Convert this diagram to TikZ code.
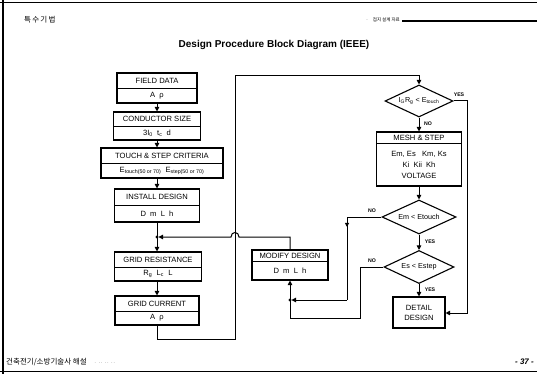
\documentclass[tikz,border=0pt]{standalone}
\usepackage{fontspec}
\setmainfont{Liberation Sans}
\newfontfamily\kr{Noto Sans CJK KR}
\usetikzlibrary{arrows.meta,shapes.geometric,decorations.markings}
\tikzset{
  lbl/.style={font=\fontsize{7.6}{11}\selectfont, inner sep=0, align=center},
  arr/.style={line width=1pt, -{Triangle[length=4.5pt,width=4.5pt]}},
  ln/.style={line width=1pt},
  dia/.style={diamond, draw, line width=1.1pt, inner sep=0, aspect=2, font=\fontsize{7.2}{8}\selectfont},
  yn/.style={font=\bfseries\fontsize{5.2}{5.5}\selectfont, inner sep=0},
  jdot/.style={circle, fill, inner sep=0, minimum size=3.4pt},
  plainbox/.style={draw, line width=1.1pt, inner sep=0, align=center, font=\fontsize{7.6}{10}\selectfont},
  midarrow/.style={postaction={decorate}, decoration={markings, mark=at position #1 with {\arrow{Triangle[length=4pt,width=4pt]}}}},
}
% name, cx, ytop, width, height, divider offset, title, content
\newcommand{\twobox}[8]{%
  \node[draw, line width=1.1pt, inner sep=0, minimum width=#4pt, minimum height=#5pt] (#1) at (#2,{#3+#5/2}) {};
  \draw[line width=0.7pt] ({#2-#4/2},{#3+#6}) -- ({#2+#4/2},{#3+#6});
  \node[lbl] at (#2,{#3+#6/2}) {#7};
  \node[lbl] at (#2,{#3+(#6+#5)/2}) {#8};}
\begin{document}
\begin{tikzpicture}[x=1pt,y=-1pt]
\useasboundingbox (0,0) rectangle (537,374);
% frame
\draw[line width=0.6pt] (0,2) -- (537,2);
\draw[line width=1.2pt] (3,0) -- (3,374);
\draw[line width=1pt] (0,371) -- (537,371);
\draw[line width=1.6pt] (402,21) -- (537,21);
% header / footer
\node[font=\kr\fontsize{7.5}{8}\selectfont, anchor=west, inner sep=0] (hdr) at (24,20) {특\,수\,기\,법};
\node[font=\kr\fontsize{4.5}{5}\selectfont, anchor=east, inner sep=0] (src) at (400,20) {·\quad 접지 설계 자료};
\node[font=\bfseries\fontsize{10}{10}\selectfont, inner sep=0] (title) at (274,45) {Design Procedure Block Diagram (IEEE)};
\node[font=\kr\fontsize{7.5}{8}\selectfont, anchor=west, inner sep=0] (foot) at (6,362) {건축전기/소방기술사 해설\quad{\fontsize{4}{4}\selectfont · \ ·· \ ·· \ ··}};
\node[font=\bfseries\itshape\fontsize{8}{8}\selectfont, anchor=east, inner sep=0] (pg) at (534,362) {- 37 -};

% left column
\twobox{fd}{157}{73}{80}{30}{15}{FIELD DATA}{A\ \ ρ}
\twobox{cs}{157}{112}{87}{28}{14}{CONDUCTOR SIZE}{3I\textsubscript{0}\ \ t\textsubscript{c}\ \ d}
\twobox{ts}{162}{148}{122}{30}{15}{TOUCH \& STEP CRITERIA}{E\textsubscript{touch(50 or 70)}\ \ E\textsubscript{step(50 or 70)}}
\twobox{id}{157}{189}{85}{33}{16}{INSTALL DESIGN}{D\ \ m\ \ L\ \ h}
\twobox{gr}{158}{252}{87}{29}{15}{GRID RESISTANCE}{R\textsubscript{g}\ \ L\textsubscript{c}\ \ L}
\twobox{gc}{157}{296}{84}{29}{15}{GRID CURRENT}{A\ \ ρ}
\coordinate (j1) at (157,237);
\node[jdot] (j1d) at (j1) {};

\draw[arr] (fd.south) -- (cs.north);
\draw[arr] (cs.south) -- (ts.north -| cs.south);
\draw[arr] (ts.south -| id.north) -- (id.north);
\draw[ln] (id.south) -- (j1);
\draw[arr] (j1) -- (gr.north -| j1);
\draw[arr] (gr.south -| gc.north) -- (gc.north);

% right column
\node[dia, minimum width=68pt, minimum height=32pt] (d1) at (419,101) {I\textsubscript{G}R\textsubscript{g} < E\textsubscript{touch}};
\twobox{ms}{419}{132}{85}{54}{11}{MESH \& STEP}{Em, Es\ \ \ Km, Ks\\Ki\ \ Kii\ \ Kh\\VOLTAGE}
\node[dia, minimum width=74pt, minimum height=34pt] (d2) at (419,217) {Em < Etouch};
\node[dia, minimum width=70pt, minimum height=33pt] (d3) at (419,267) {Es < Estep};
\node[plainbox, minimum width=52pt, minimum height=31pt] (dd) at (419,312.5) {DETAIL\\DESIGN};

\draw[arr] (d1.south) -- (ms.north);
\draw[arr] (ms.south) -- (d2.north);
\draw[arr] (d2.south) -- (d3.north);
\draw[arr] (d3.south) -- (dd.north);
\draw[arr] (d1.east) -- (467,101) -- (467,313) -- (dd.east |- 467,313);

\node[yn] (y1) at (459,95) {YES};
\node[yn] (n1) at (428,124) {NO};
\node[yn] (n2) at (372,211) {NO};
\node[yn] (y2) at (430,242) {YES};
\node[yn] (n3) at (372,261) {NO};
\node[yn] (y3) at (430,290) {YES};

% modify design
\twobox{md}{290}{250}{76}{30}{11}{MODIFY DESIGN}{D\ \ m\ \ L\ \ h}
\coordinate (j2) at (290,300);
\coordinate (c2) at (347,217);
\coordinate (c2b) at (347,300);
\node[jdot] (j2d) at (j2) {};
\draw[arr] (j2) -- (md.south);
\draw[ln] (d2.west) -- (c2);
\draw[ln, midarrow=0.12] (c2) -- (c2b);
\draw[arr, shorten >=1.5pt] (c2b) -- (j2);
\draw[ln] (d3.west) -- (360,267) -- (360,318) -- (290,318) -- (j2);
\draw[arr, shorten >=1.5pt] (md.north) -- (290,237) -- (239,237) .. controls (239,231) and (231,231) .. (231,237) -- (j1);

% loop from grid current to first check
\draw[arr] (gc.south) -- (157,339) -- (235,339) -- (235,76) -- (419,76) -- (d1.north);
\end{tikzpicture}
\end{document}
